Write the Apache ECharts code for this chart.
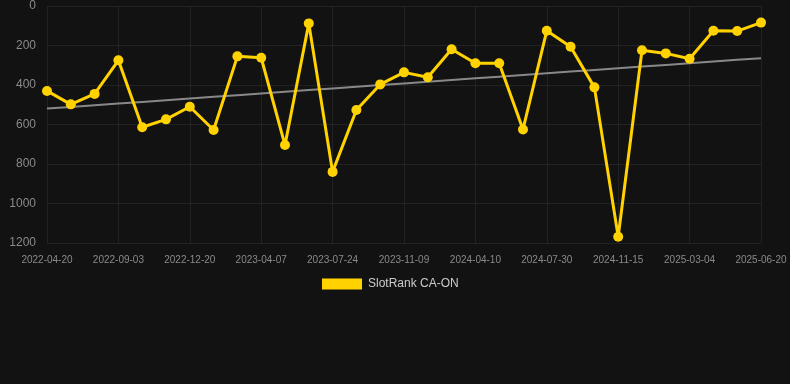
<!DOCTYPE html>
<html>
<head>
<meta charset="utf-8">
<script src="https://cdn.jsdelivr.net/npm/echarts@6/dist/echarts.min.js"></script>
<style>
html,body{margin:0;padding:0;background:#121212;}
#c{width:790px;height:384px;}
</style>
</head>
<body>
<div id="c"></div>
<script>
const dates = [
  '2022-04-20','2022-06-04','2022-07-19','2022-09-03','2022-10-09','2022-11-14','2022-12-20',
  '2023-01-25','2023-03-02','2023-04-07','2023-05-13','2023-06-18','2023-07-24','2023-08-29',
  '2023-10-04','2023-11-09','2023-12-30','2024-02-19','2024-04-10','2024-05-17','2024-06-23',
  '2024-07-30','2024-09-04','2024-10-10','2024-11-15','2024-12-21','2025-01-27','2025-03-04',
  '2025-04-09','2025-05-15','2025-06-20'
];
const ranks = [
  430, 498, 445, 275, 614, 574, 510, 628, 255, 262, 704, 88, 840, 527, 397, 336,
  361, 219, 290, 290, 625, 125, 206, 412, 1168, 224, 240, 267, 125, 127, 84
];
const seriesName = 'SlotRank CA-ON';
const yTicks = [0, 200, 400, 600, 800, 1000, 1200];

// linear regression trend
const n = ranks.length;
let sx = 0, sy = 0, sxy = 0, sxx = 0;
ranks.forEach((v, i) => { sx += i; sy += v; sxy += i * v; sxx += i * i; });
const slope = (n * sxy - sx * sy) / (n * sxx - sx * sx);
const intercept = (sy - slope * sx) / n;
const trend = ranks.map((v, i) => +(intercept + slope * i).toFixed(2));

const chart = echarts.init(document.getElementById('c'), null, {renderer: 'canvas'});
chart.setOption({
  backgroundColor: '#121212',
  animation: false,
  grid: {left: 47, right: 29, top: 6, bottom: 141, containLabel: false},
  legend: {
    data: [{name: seriesName, icon: 'rect'}],
    top: 273, left: 317,
    itemWidth: 40, itemHeight: 11, itemGap: 10,
    textStyle: {color: '#cccccc', fontSize: 12, fontFamily: 'Liberation Sans, Arial, sans-serif', padding: [0, 0, 0, 1]}
  },
  xAxis: {
    type: 'category',
    data: dates,
    boundaryGap: false,
    axisLine: {show: false},
    axisTick: {show: false},
    axisLabel: {interval: 2, color: '#8a8a8a', fontSize: 10, margin: 12, fontFamily: 'Liberation Sans, Arial, sans-serif'},
    splitLine: {show: true, interval: 2, lineStyle: {color: '#222222', width: 1}}
  },
  yAxis: {
    type: 'value',
    inverse: true,
    min: yTicks[0], max: yTicks[yTicks.length - 1], interval: 200,
    axisLine: {show: false},
    axisTick: {show: false},
    axisLabel: {color: '#8a8a8a', fontSize: 12, margin: 11, fontFamily: 'Liberation Sans, Arial, sans-serif',
      formatter: v => String(v)},
    splitLine: {show: true, lineStyle: {color: '#222222', width: 1}}
  },
  series: [
    {
      name: 'trend',
      type: 'line',
      data: trend,
      symbol: 'none',
      silent: true,
      lineStyle: {color: '#888888', width: 2},
      z: 1
    },
    {
      name: seriesName,
      type: 'line',
      data: ranks,
      symbol: 'circle',
      symbolSize: 10,
      itemStyle: {color: '#FFD200'},
      lineStyle: {color: '#FFD200', width: 3},
      z: 2
    }
  ]
});
</script>
</body>
</html>
